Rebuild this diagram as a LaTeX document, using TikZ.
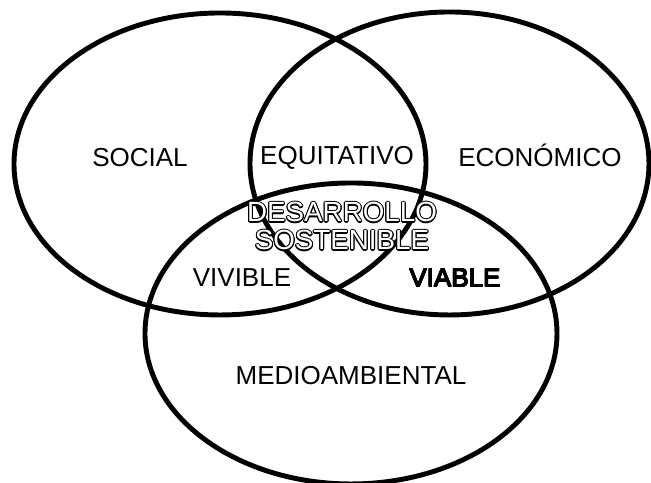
\documentclass[tikz,border=0pt]{standalone}
\usepackage{fontspec}
\setmainfont{Liberation Sans}
\usepackage{contour}
\contourlength{0.3pt}

\begin{document}
\begin{tikzpicture}[x=1cm, y=1cm, line width=1.4pt]
\useasboundingbox (0,0) rectangle (6.51,4.83);

\draw (2.20,3.19) ellipse (2.06cm and 1.51cm);
\draw (4.495,3.195) ellipse (1.995cm and 1.515cm);
\draw (3.51,1.495) ellipse (2.06cm and 1.505cm);

\begin{scope}[every node/.style={anchor=base, inner sep=0pt, font=\fontsize{7.4}{8}\selectfont}]
\node (social) at (1.40,3.16) {SOCIAL};
\node (equitativo) at (3.37,3.18) {EQUITATIVO};
\node (economico) at (5.40,3.16) {ECONÓMICO};
\node (vivible) at (2.42,1.96) {VIVIBLE};
\node (viable) at (4.55,1.96) {\contourlength{0.12pt}\contour{black}{VIABLE}};
\node (medio) at (3.51,0.98) {MEDIOAMBIENTAL};
\end{scope}

\begin{scope}[every node/.style={anchor=base, inner sep=0pt, font=\fontsize{7.9}{8}\selectfont}]
\node (desarrollo) at (3.42,2.61) {\color{white}\contour{black}{DESARROLLO}};
\node (sostenible) at (3.42,2.33) {\color{white}\contour{black}{SOSTENIBLE}};
\end{scope}
\end{tikzpicture}
\end{document}
